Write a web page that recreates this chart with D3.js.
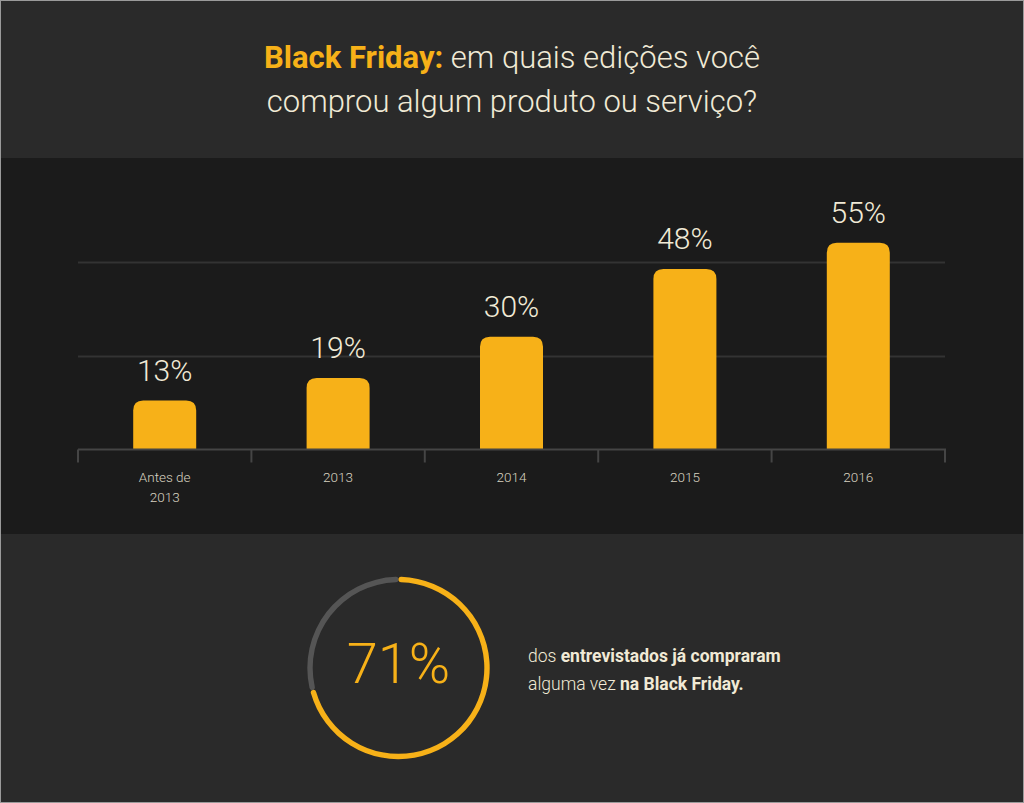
<!DOCTYPE html>
<html><head><meta charset="utf-8">
<script src="https://cdn.jsdelivr.net/npm/d3@7"></script>
<style>html,body{margin:0;padding:0;background:#2a2a2a;overflow:hidden}svg{display:block}</style>
</head><body>
<script>
const categories = [["Antes de","2013"],["2013"],["2014"],["2015"],["2016"]];
const values = [13, 19, 30, 48, 55];
const gridTicks = [25, 50];
const donutValue = 71;
const titleBold = "Black Friday:";
const titleRest1 = " em quais edições você";
const titleLine2 = "comprou algum produto ou serviço?";

const W = 1024, H = 803;
const orange = "#f7b118", cream = "#f1ead6";
const svg = d3.select("body").append("svg").attr("width", W).attr("height", H);

svg.append("rect").attr("width", W).attr("height", H).attr("fill", "#2a2a2a");
svg.append("rect").attr("x",0).attr("y",158).attr("width",W).attr("height",376).attr("fill","#1b1b1b");
svg.append("rect").attr("x",0.5).attr("y",0.5).attr("width",W-1).attr("height",H-1).attr("fill","none").attr("stroke","#9a9a9a").attr("stroke-width",1);

// Title
const t1 = svg.append("text").attr("x",512).attr("y",68).attr("text-anchor","middle")
  .attr("font-family","Roboto").attr("font-size",31).attr("fill",cream);
t1.append("tspan").attr("font-weight",700).attr("fill",orange).text(titleBold);
t1.append("tspan").attr("font-weight",300).text(titleRest1);
svg.append("text").attr("x",512).attr("y",112).attr("text-anchor","middle")
  .attr("font-family","Roboto").attr("font-weight",300).attr("font-size",31).attr("fill",cream).text(titleLine2);

// Bar chart
const x0 = 78, x1 = 945, baseY = 449.5;
const x = d3.scaleBand().domain(d3.range(values.length)).range([x0, x1]).paddingInner(0).paddingOuter(0);
const y = d3.scaleLinear().domain([0, 50]).range([baseY, baseY - 188]);

svg.append("g").selectAll("line").data(gridTicks).join("line")
  .attr("x1", x0).attr("x2", x1).attr("y1", d => Math.round(y(d))+0.5).attr("y2", d => Math.round(y(d))+0.5)
  .attr("stroke","#333333").attr("stroke-width",2);

const bw = 63, r = 10;
svg.append("g").selectAll("path").data(values).join("path")
  .attr("fill", orange)
  .attr("d", (d,i) => {
    const cx = x(i) + x.bandwidth()/2, l = cx - bw/2, rr = cx + bw/2, top = y(d), b = baseY;
    return `M${l},${b}L${l},${top+r}Q${l},${top} ${l+r},${top}L${rr-r},${top}Q${rr},${top} ${rr},${top+r}L${rr},${b}Z`;
  });

svg.append("g").selectAll("text").data(values).join("text")
  .attr("x", (d,i) => x(i) + x.bandwidth()/2).attr("y", d => y(d) - 20)
  .attr("text-anchor","middle").attr("font-family","Roboto").attr("font-weight",300)
  .attr("font-size",30).attr("fill",cream).text(d => d + "%");

// Axis
const axisG = svg.append("g").attr("transform",`translate(0,${baseY})`);
axisG.append("line").attr("x1",x0).attr("x2",x1+1).attr("y1",0).attr("y2",0).attr("stroke","#454545").attr("stroke-width",2);
const tickXs = d3.range(values.length).map(i => x(i)).concat([x1]);
axisG.selectAll("line.tick").data(tickXs).join("line").attr("class","tick")
  .attr("x1", d=>d).attr("x2", d=>d).attr("y1",0).attr("y2",13).attr("stroke","#454545").attr("stroke-width",2);
axisG.selectAll("text").data(categories).join("text")
  .attr("text-anchor","middle").attr("font-family","Roboto").attr("font-weight",300)
  .attr("font-size",13.5).attr("fill","#d8d2c0")
  .each(function(d,i){
    const cx = x(i) + x.bandwidth()/2;
    d.forEach((s,k) => d3.select(this).append("tspan").attr("x",cx).attr("y",32 + k*20).text(s));
  });

// Donut
const cxD = 398.5, cyD = 668, rD = 88.5;
const g = svg.append("g").attr("transform",`translate(${cxD},${cyD})`);
const arc = d3.arc().innerRadius(rD-2.7).outerRadius(rD+2.7).cornerRadius(2.7);
const ang = d3.scaleLinear().domain([0,100]).range([0, 2*Math.PI]);
g.append("path").attr("d", arc({startAngle: ang(donutValue), endAngle: 2*Math.PI})).attr("fill","#555555");
g.append("path").attr("d", arc({startAngle: 0, endAngle: ang(donutValue)})).attr("fill",orange);
g.append("text").attr("x",0).attr("y",15).attr("text-anchor","middle").attr("font-family","Roboto")
  .attr("font-weight",300).attr("font-size",56).attr("fill",orange).text(donutValue + "%");

const dt1 = svg.append("text").attr("x",528).attr("y",662).attr("font-family","Roboto").attr("font-size",17.5).attr("fill",cream);
dt1.append("tspan").attr("font-weight",300).text("dos ");
dt1.append("tspan").attr("font-weight",700).text("entrevistados já compraram");
const dt2 = svg.append("text").attr("x",528).attr("y",690).attr("font-family","Roboto").attr("font-size",17.5).attr("fill",cream);
dt2.append("tspan").attr("font-weight",300).text("alguma vez ");
dt2.append("tspan").attr("font-weight",700).text("na Black Friday.");
</script>
</body></html>
